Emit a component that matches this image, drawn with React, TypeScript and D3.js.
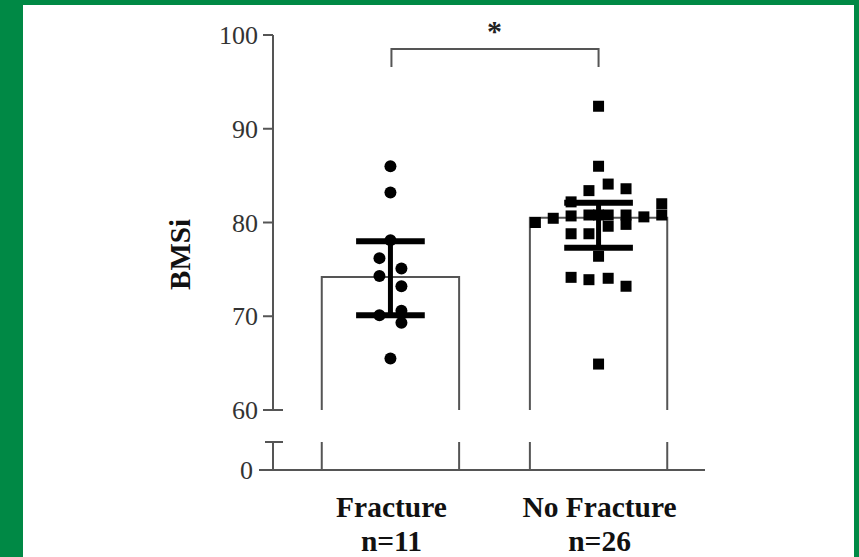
import { scaleBand, scaleLinear, symbol, symbolCircle, symbolSquare } from "d3";

const categories = ["Fracture", "No Fracture"];
const sampleSizes = ["n=11", "n=26"];
const barValues = [74.2, 80.5];
const errLow = [70.1, 77.3];
const errHigh = [78.0, 82.1];

const fractureValues = [86.0, 83.2, 78.1, 76.2, 75.1, 74.3, 73.2, 70.6, 70.1, 69.3, 65.5];
const fractureJitter = [0, 0, 0, -0.08, 0.08, -0.08, 0.08, 0.08, -0.08, 0.08, 0];

const noFractureValues = [
  92.4, 86.0, 84.1, 83.4, 83.6, 82.2, 82.0, 80.8, 80.0, 80.45, 80.7, 80.8, 80.8,
  80.8, 80.6, 79.8, 79.6, 78.8, 78.8, 76.4, 74.15, 73.9, 74.05, 73.2, 64.9, 80.8,
];
const noFractureJitter = [
  0, 0, 0.07, -0.07, 0.2, -0.2, 0.46, 0.46, -0.46, -0.33, -0.2, -0.07, 0.07,
  0.2, 0.33, 0.2, 0.07, -0.2, -0.07, 0, -0.2, -0.07, 0.07, 0.2, 0, 0,
];

const upperTicks = [60, 70, 80, 90, 100];
const lowerTicks = [0];
const yLabel = "BMSi";
const sigLabel = "*";

const W = 859;
const H = 557;
const GREEN = "rgb(0,137,69)";
const AXIS = "#555";
const FONT = "'Liberation Serif', 'Times New Roman', serif";

export default function App() {
  const x = scaleBand<string>().domain(categories).range([251, 738]).paddingInner(0.34).paddingOuter(0.34);
  const yUp = scaleLinear().domain([60, 100]).range([410, 35]);
  const yLow = scaleLinear().domain([0, 3]).range([470, 442]);
  const axisX = 273;
  const bw = x.bandwidth();

  const circlePath = symbol().type(symbolCircle).size(Math.PI * 36)() ?? "";
  const squarePath = symbol().type(symbolSquare).size(121)() ?? "";

  const groups = [
    { values: fractureValues, jitter: fractureJitter, path: circlePath },
    { values: noFractureValues, jitter: noFractureJitter, path: squarePath },
  ];

  const c0 = (x(categories[0]) ?? 0) + bw / 2;
  const c1 = (x(categories[1]) ?? 0) + bw / 2;
  const bracketY = 49;

  return (
    <svg
      width={W}
      height={H}
      style={{ position: "absolute", left: 0, top: 0 }}
      fontFamily={FONT}
    >
      <rect x={0} y={0} width={W} height={H} fill={GREEN} />
      <rect x={23} y={5} width={W - 28} height={H - 5} fill="#fff" />

      {/* bars, broken between 60 and 0 */}
      {categories.map((c, i) => {
        const x0 = x(c) ?? 0;
        const x1 = x0 + bw;
        const top = yUp(barValues[i]);
        return (
          <g key={c} stroke={AXIS} strokeWidth={2} fill="none">
            <path d={`M${x0},${yUp(60)}V${top}H${x1}V${yUp(60)}`} fill="#fff" />
            <line x1={x0} x2={x0} y1={yLow(3)} y2={yLow(0)} />
            <line x1={x1} x2={x1} y1={yLow(3)} y2={yLow(0)} />
          </g>
        );
      })}

      {/* points */}
      {groups.map((g, gi) => {
        const cx = (x(categories[gi]) ?? 0) + bw / 2;
        return g.values.map((v, j) => (
          <path
            key={`${gi}-${j}`}
            d={g.path}
            transform={`translate(${cx + g.jitter[j] * bw},${yUp(v)})`}
            fill="#000"
          />
        ));
      })}

      {/* error bars */}
      {categories.map((c, i) => {
        const cx = (x(c) ?? 0) + bw / 2;
        const half = bw * 0.25;
        return (
          <g key={`e-${c}`} stroke="#000" strokeWidth={5}>
            <line x1={cx} x2={cx} y1={yUp(errHigh[i])} y2={yUp(errLow[i])} />
            <line x1={cx - half} x2={cx + half} y1={yUp(errHigh[i])} y2={yUp(errHigh[i])} strokeWidth={6} />
            <line x1={cx - half} x2={cx + half} y1={yUp(errLow[i])} y2={yUp(errLow[i])} strokeWidth={6} />
          </g>
        );
      })}

      {/* y axis (two segments) and x axis */}
      <g stroke={AXIS} strokeWidth={2}>
        <line x1={axisX} x2={axisX} y1={yUp(100)} y2={yUp(60)} />
        <line x1={axisX - 8} x2={axisX + 10} y1={yUp(60)} y2={yUp(60)} />
        {upperTicks.map((t) => (
          <line key={t} x1={axisX - 10} x2={axisX} y1={yUp(t)} y2={yUp(t)} />
        ))}
        <line x1={axisX} x2={axisX} y1={yLow(3)} y2={yLow(0)} />
        <line x1={axisX - 8} x2={axisX + 10} y1={yLow(3)} y2={yLow(3)} />
        <line x1={259} x2={705} y1={yLow(0)} y2={yLow(0)} />
      </g>
      <g fontSize={26} fill="#333" textAnchor="end">
        {upperTicks.map((t) => (
          <text key={t} x={axisX - 15} y={yUp(t)} dy="0.35em">
            {t}
          </text>
        ))}
        {lowerTicks.map((t) => (
          <text key={t} x={axisX - 20} y={yLow(t)} dy="0.35em">
            {t}
          </text>
        ))}
      </g>
      <text
        transform={`translate(190,${yUp(80) + 32}) rotate(-90)`}
        textAnchor="middle"
        fontSize={29}
        fontWeight="bold"
        fill="#111"
      >
        {yLabel}
      </text>

      {/* category labels */}
      {categories.map((c, i) => {
        const cx = (x(c) ?? 0) + bw / 2;
        return (
          <g key={`l-${c}`} textAnchor="middle" fontSize={29.5} fontWeight="bold" fill="#111">
            <text x={cx + 1} y={517}>{c}</text>
            <text x={cx + 1} y={551}>{sampleSizes[i]}</text>
          </g>
        );
      })}

      {/* significance bracket */}
      <path
        d={`M${c0 + 1},${bracketY + 18}V${bracketY}H${c1}V${bracketY + 18}`}
        fill="none"
        stroke={AXIS}
        strokeWidth={2}
      />
      <text x={(c0 + c1) / 2} y={41} textAnchor="middle" fontSize={30} fontWeight="bold" fill="#222">
        {sigLabel}
      </text>
    </svg>
  );
}
